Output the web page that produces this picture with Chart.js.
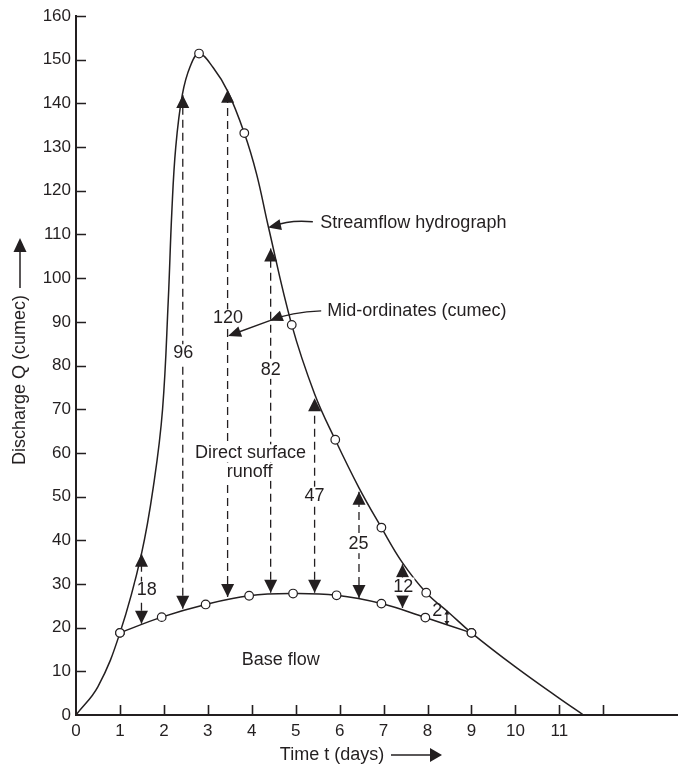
<!DOCTYPE html>
<html>
<head>
<meta charset="utf-8">
<title>Streamflow hydrograph</title>
<script src="https://cdn.jsdelivr.net/npm/chart.js@4"></script>
<style>
    html, body { margin: 0; padding: 0; background: #fff; }
    #wrap { width: 678px; height: 767px; position: relative; }
</style>
</head>
<body>
<div id="wrap"><canvas id="hydro-chart"></canvas></div>
<script>
// streamflow hydrograph (days, cumec)
const flowDays = [0, 0.5, 1, 1.49, 1.78, 1.97, 2.1, 2.18, 2.27, 2.42, 2.6, 2.8, 3.12, 3.45, 3.83, 4.11, 4.37, 4.91, 5.43, 5.9, 6.44, 6.95, 7.42, 7.97, 8.5, 9, 10, 11, 11.55];
const flowQ = [0, 6.5, 18.8, 36.9, 53.6, 70, 95, 115, 130, 142, 148.5, 151.4, 148.2, 142.8, 133.2, 123.8, 112.1, 89.3, 73.5, 63, 52, 42.9, 35, 28, 23.3, 18.8, 11, 3.8, 0];

// plotted (circled) points on the hydrograph
const obsDays = [1, 2.8, 3.83, 4.91, 5.9, 6.95, 7.97, 9];
const obsQ = [18.8, 151.4, 133.2, 89.3, 63, 42.9, 28, 18.8];

// base flow separation line
const baseDays = [1, 1.95, 2.95, 3.94, 4.94, 5.93, 6.95, 7.95, 9];
const baseQ = [18.8, 22.4, 25.3, 27.3, 27.8, 27.4, 25.5, 22.3, 18.8];

// mid-ordinates of direct runoff
const midDays = [1.49, 2.43, 3.45, 4.43, 5.43, 6.44, 7.43, 8.44];
const midTop = [36.9, 141.9, 143.1, 106.8, 72.5, 51.1, 34.5, 23.9];
const midBase = [20.9, 24.3, 27.0, 28.0, 28.0, 26.8, 24.5, 20.6];
const midLabels = ['18', '96', '120', '82', '47', '25', '12', '2'];

const xTickLabels = ['0', '1', '2', '3', '4', '5', '6', '7', '8', '9', '10', '11'];
const xTickMarks = [1, 2, 3, 4, 5, 6, 7, 8, 9, 10, 11, 12];
const yTickLabels = ['0', '10', '20', '30', '40', '50', '60', '70', '80', '90', '100', '110', '120', '130', '140', '150', '160'];

const INK = '#231f20';
const FONT = '"Liberation Sans", Arial, Helvetica, sans-serif';

function toPoints(xs, ys) {
    return xs.map((x, i) => ({ x, y: ys[i] }));
}

function drawHead(ctx, tipX, tipY, fromX, fromY, len, halfW) {
    const ang = Math.atan2(tipY - fromY, tipX - fromX);
    ctx.save();
    ctx.translate(tipX, tipY);
    ctx.rotate(ang);
    ctx.beginPath();
    ctx.moveTo(0, 0);
    ctx.lineTo(-len, -halfW);
    ctx.lineTo(-len, halfW);
    ctx.closePath();
    ctx.fill();
    ctx.restore();
}

function drawText(ctx, text, x, y, align, whiteBg) {
    ctx.font = `18px ${FONT}`;
    ctx.textAlign = align;
    ctx.textBaseline = 'middle';
    if (whiteBg) {
        const w = ctx.measureText(text).width;
        const left = align === 'center' ? x - w / 2 : x;
        ctx.save();
        ctx.fillStyle = '#fff';
        ctx.fillRect(left - 1, y - 9, w + 2, 18);
        ctx.restore();
    }
    ctx.fillText(text, x, y);
}

const annotations = {
    id: 'annotations',
    afterDatasetsDraw(chart) {
        const { ctx } = chart;
        const px = (d) => chart.scales.x.getPixelForValue(d);
        const py = (q) => chart.scales.y.getPixelForValue(q);
        ctx.save();
        ctx.fillStyle = INK;
        ctx.strokeStyle = INK;
        ctx.lineWidth = 1.3;

        // arrowheads at both ends of each mid-ordinate
        midDays.forEach((d, i) => {
            const x = px(d);
            const small = i === midDays.length - 1;
            const len = small ? 4 : 13;
            const hw = small ? 2.5 : 6.5;
            if (small) {
                ctx.beginPath();
                ctx.moveTo(x, py(midTop[i]));
                ctx.lineTo(x, py(midBase[i]));
                ctx.stroke();
            }
            drawHead(ctx, x, py(midTop[i]), x, py(midTop[i]) + 10, len, hw);
            drawHead(ctx, x, py(midBase[i]), x, py(midBase[i]) - 10, len, hw);
        });

        // ordinate values sit on the dashed lines
        const labelDays = [1.61, 2.44, 3.46, 4.43, 5.43, 6.43, 7.45, 8.22];
        const labelQ = [28.5, 82.8, 90.8, 79, 50.2, 39.1, 29.4, 23.7];
        midLabels.forEach((t, i) => {
            drawText(ctx, t, px(labelDays[i]), py(labelQ[i]), 'center', i < midLabels.length - 1);
        });

        drawText(ctx, 'Direct surface', px(3.97), py(59.9), 'center', true);
        drawText(ctx, 'runoff', px(3.95), py(55.7), 'center', true);
        drawText(ctx, 'Base flow', px(4.66), py(12.6), 'center', false);

        // "Streamflow hydrograph" pointer
        ctx.lineWidth = 1.4;
        ctx.beginPath();
        ctx.moveTo(px(5.39), py(112.9));
        ctx.quadraticCurveTo(px(4.85), py(113.4), px(4.5), py(111.9));
        ctx.stroke();
        drawHead(ctx, px(4.37), py(111.6), px(4.6), py(112.1), 13, 5.5);
        drawText(ctx, 'Streamflow hydrograph', px(5.56), py(112.5), 'left', false);

        // "Mid-ordinates (cumec)" pointer
        ctx.beginPath();
        ctx.moveTo(px(5.58), py(92.5));
        ctx.quadraticCurveTo(px(4.9), py(92.3), px(4.41), py(90.25));
        ctx.lineTo(px(3.55), py(87.1));
        ctx.stroke();
        drawHead(ctx, px(4.41), py(90.25), px(4.7), py(91.4), 13, 5.5);
        drawHead(ctx, px(3.46), py(86.75), px(3.8), py(88.0), 13, 5.5);
        drawText(ctx, 'Mid-ordinates (cumec)', px(5.72), py(92.5), 'left', false);
        ctx.restore();
    },
    afterDraw(chart) {
        const { ctx, chartArea } = chart;
        const px = (d) => chart.scales.x.getPixelForValue(d);
        const py = (q) => chart.scales.y.getPixelForValue(q);
        ctx.save();
        ctx.strokeStyle = INK;
        ctx.fillStyle = INK;
        ctx.lineWidth = 1.6;

        // tick marks point into the plot
        ctx.beginPath();
        xTickMarks.forEach(v => {
            const x = Math.round(px(v)) + 0.5;
            ctx.moveTo(x, chartArea.bottom);
            ctx.lineTo(x, chartArea.bottom - 10);
        });
        yTickLabels.slice(1).forEach((t) => {
            const y = Math.round(py(Number(t))) + 0.5;
            ctx.moveTo(chartArea.left, y);
            ctx.lineTo(chartArea.left + 10, y);
        });
        ctx.stroke();

        // axis titles with their arrows
        ctx.font = `18px ${FONT}`;
        ctx.textBaseline = 'middle';
        ctx.textAlign = 'center';
        ctx.save();
        ctx.translate(20, 380);
        ctx.rotate(-Math.PI / 2);
        ctx.fillText('Discharge Q (cumec)', 0, 0);
        ctx.restore();
        ctx.lineWidth = 1.5;
        ctx.beginPath();
        ctx.moveTo(20, 288);
        ctx.lineTo(20, 248);
        ctx.stroke();
        drawHead(ctx, 20, 238, 20, 260, 14, 6.5);

        ctx.fillText('Time t (days)', 332, 755);
        ctx.beginPath();
        ctx.moveTo(391, 755);
        ctx.lineTo(432, 755);
        ctx.stroke();
        drawHead(ctx, 442, 755, 420, 755, 12, 7);
        ctx.restore();
    },
};

const midPath = midDays.slice(0, -1).flatMap((d, i) => [
    { x: d, y: midBase[i] },
    { x: d, y: midTop[i] },
    { x: d, y: null },
]);

new Chart(document.getElementById('hydro-chart'), {
    type: 'line',
    data: {
        datasets: [
            {
                label: 'Hydrograph points',
                data: toPoints(obsDays, obsQ),
                showLine: false,
                pointRadius: 4.3,
                pointBackgroundColor: '#fff',
                pointBorderColor: INK,
                pointBorderWidth: 1.2,
            },
            {
                label: 'Base flow points',
                data: toPoints(baseDays, baseQ),
                showLine: false,
                pointRadius: 4.3,
                pointBackgroundColor: '#fff',
                pointBorderColor: INK,
                pointBorderWidth: 1.2,
            },
            {
                label: 'Mid-ordinates',
                data: midPath,
                borderColor: INK,
                borderWidth: 1.3,
                borderDash: [8, 5],
                pointRadius: 0,
                spanGaps: false,
            },
            {
                label: 'Base flow',
                data: toPoints(baseDays, baseQ),
                borderColor: INK,
                borderWidth: 1.5,
                pointRadius: 0,
                tension: 0.4,
            },
            {
                label: 'Streamflow hydrograph',
                data: toPoints(flowDays, flowQ),
                borderColor: INK,
                borderWidth: 1.5,
                pointRadius: 0,
                tension: 0.4,
            },
        ],
    },
    options: {
        responsive: true,
        maintainAspectRatio: false,
        animation: false,
        events: [],
        layout: { autoPadding: false, padding: { top: 16, right: 0, bottom: 0, left: 0 } },
        scales: {
            x: {
                type: 'linear',
                min: 0,
                max: 13.7,
                afterFit(scale) { scale.height = 52; },
                // tick marks are drawn inward by the plugin; tickLength only spaces the labels
                grid: { display: false, drawTicks: true, tickLength: 6 },
                border: { display: true, color: INK, width: 2 },
                ticks: {
                    stepSize: 1,
                    autoSkip: false,
                    maxRotation: 0,
                    padding: 0,
                    color: INK,
                    font: { family: FONT, size: 17 },
                    callback(value) {
                        return Number.isInteger(value) ? (xTickLabels[value] ?? '') : '';
                    },
                },
            },
            y: {
                type: 'linear',
                min: 0,
                max: 160,
                afterFit(scale) { scale.width = 76; },
                grid: { display: false, drawTicks: true, tickLength: 5 },
                border: { display: true, color: INK, width: 2 },
                ticks: {
                    stepSize: 10,
                    padding: 0,
                    color: INK,
                    font: { family: FONT, size: 17 },
                    callback(value, index) {
                        return yTickLabels[index] ?? '';
                    },
                },
            },
        },
        plugins: {
            legend: { display: false },
            tooltip: { enabled: false },
        },
    },
    plugins: [annotations],
});
</script>
</body>
</html>
